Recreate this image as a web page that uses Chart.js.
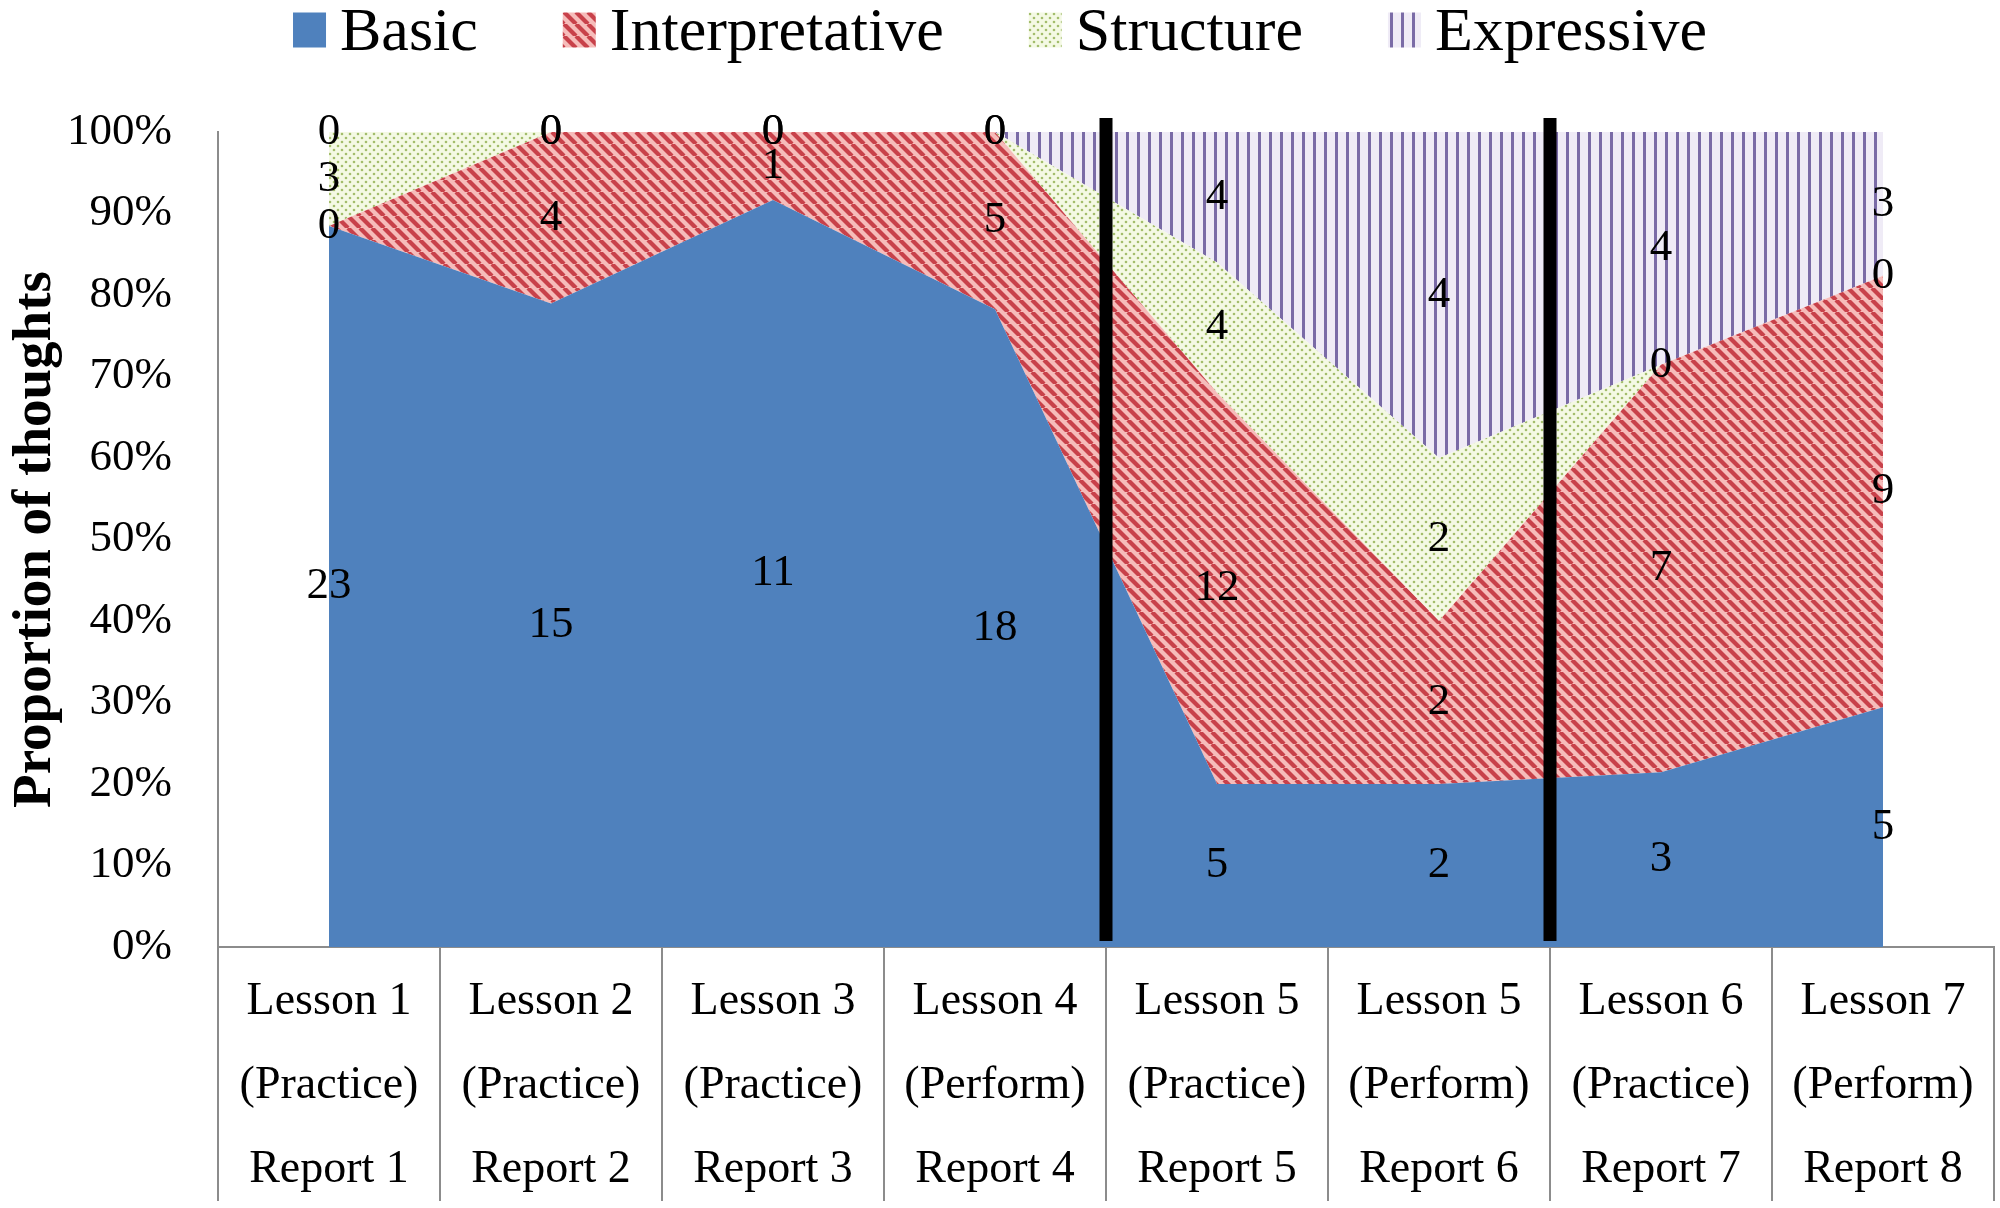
<!DOCTYPE html>
<html lang="en">
<head>
<meta charset="UTF-8">
<title>Proportion of thoughts</title>
<script src="https://cdn.jsdelivr.net/npm/chart.js@4.4.1/dist/chart.umd.min.js"></script>
<style>
	html, body { margin: 0; padding: 0; background: #fff; }
	#box { width: 2000px; height: 1208px; position: relative; }
</style>
</head>
<body>
	<div id="box"><canvas id="chart"></canvas></div>

	<script>
		// categories (three lines each, as in the table under the axis)
		var reports = [
			['Lesson 1', '(Practice)', 'Report 1'],
			['Lesson 2', '(Practice)', 'Report 2'],
			['Lesson 3', '(Practice)', 'Report 3'],
			['Lesson 4', '(Perform)', 'Report 4'],
			['Lesson 5', '(Practice)', 'Report 5'],
			['Lesson 5', '(Perform)', 'Report 6'],
			['Lesson 6', '(Practice)', 'Report 7'],
			['Lesson 7', '(Perform)', 'Report 8']
		];
		var seriesNames = ['Basic', 'Interpretative', 'Structure', 'Expressive'];

		// number of thoughts per report
		var basic = [23, 15, 11, 18, 5, 2, 3, 5];
		var interpretative = [0, 4, 1, 5, 12, 2, 7, 9];
		var structure = [3, 0, 0, 0, 4, 2, 0, 0];
		var expressive = [0, 0, 0, 0, 4, 4, 4, 3];

		// thick separators after these reports
		var phaseEnds = ['Report 4', 'Report 6'];

		var counts = [basic, interpretative, structure, expressive];

		// 100% stacked -> turn counts into shares
		var totals = basic.map(function(v, i) {
			return basic[i] + interpretative[i] + structure[i] + expressive[i];
		});
		var pct = counts.map(function(arr) {
			return arr.map(function(v, i) { return v / totals[i] * 100; });
		});

		function makePattern(kind) {
			var c = document.createElement('canvas');
			var g = c.getContext('2d');
			if (kind == 'stripes') {
				c.width = 12; c.height = 12;
				g.fillStyle = '#f6bcba';
				g.fillRect(0, 0, 12, 12);
				g.strokeStyle = '#c8414a';
				g.lineWidth = 4.2;
				for (var k = -12; k <= 12; k += 12) {
					g.beginPath(); g.moveTo(k, 0); g.lineTo(k + 12, 12); g.stroke();
				}
			} else if (kind == 'dots') {
				c.width = 8; c.height = 8;
				g.fillStyle = '#f4f9e4';
				g.fillRect(0, 0, 8, 8);
				g.fillStyle = '#a3bd6c';
				g.beginPath(); g.arc(2, 2, 1.3, 0, Math.PI * 2); g.fill();
				g.beginPath(); g.arc(6, 6, 1.3, 0, Math.PI * 2); g.fill();
			} else {
				c.width = 11; c.height = 11;
				g.fillStyle = '#efebf6';
				g.fillRect(0, 0, 11, 11);
				g.fillStyle = '#7a6ba6';
				g.fillRect(4, 0, 3, 11);
			}
			return g.createPattern(c, 'repeat');
		}

		var fills = ['#4f81bd', makePattern('stripes'), makePattern('dots'), makePattern('vlines')];

		var overlay = {
			id: 'overlay',
			afterDatasetsDraw: function(chart) {
				var ctx = chart.ctx, xs = chart.scales.x, ys = chart.scales.y;
				ctx.save();
				// phase separators
				ctx.strokeStyle = '#000';
				ctx.lineWidth = 13;
				phaseEnds.forEach(function(name) {
					var idx = reports.findIndex(function(r) { return r[2] == name; });
					var x = xs.getPixelForValue(idx + 0.5);
					ctx.beginPath();
					ctx.moveTo(x, ys.getPixelForValue(100) - 14);
					ctx.lineTo(x, chart.chartArea.bottom - 6);
					ctx.stroke();
				});
				// counts in the middle of each band
				ctx.font = '45px "Liberation Serif"';
				ctx.fillStyle = '#000';
				ctx.textAlign = 'center';
				ctx.textBaseline = 'middle';
				var below = reports.map(function() { return 0; });
				counts.forEach(function(arr, d) {
					var meta = chart.getDatasetMeta(d);
					arr.forEach(function(v, i) {
						var y = ys.getPixelForValue(below[i] + pct[d][i] / 2);
						ctx.fillText(String(v), meta.data[i].x, y);
						below[i] += pct[d][i];
					});
				});
				ctx.restore();
			},
			afterDraw: function(chart) {
				// legend at the top
				var ctx = chart.ctx;
				ctx.save();
				ctx.font = '62px "Liberation Serif"';
				var widths = seriesNames.map(function(n) { return ctx.measureText(n).width; });
				var boxW = 33, boxH = 35, gapText = 14, gapItem = 85;
				var total = 0;
				widths.forEach(function(w) { total += w + boxW + gapText; });
				total += gapItem * (seriesNames.length - 1);
				var x = chart.width / 2 - total / 2;
				var cy = 30;
				ctx.textAlign = 'left';
				ctx.textBaseline = 'middle';
				seriesNames.forEach(function(n, i) {
					ctx.fillStyle = fills[i];
					ctx.fillRect(x, cy - boxH / 2, boxW, boxH);
					ctx.fillStyle = '#000';
					ctx.fillText(n, x + boxW + gapText, cy + 4);
					x += boxW + gapText + widths[i] + gapItem;
				});
				ctx.restore();
			}
		};

		var ctx = document.getElementById('chart').getContext('2d');
		var chart = new Chart(ctx, {
			type : 'line',
			data : {
				labels : reports,
				datasets : seriesNames.map(function(n, d) {
					return {
						label : n,
						data : pct[d],
						backgroundColor : fills[d],
						borderWidth : 0,
						pointRadius : 0,
						tension : 0,
						fill : d == 0 ? 'origin' : '-1'
					};
				})
			},
			options : {
				responsive : true,
				maintainAspectRatio : false,
				animation : false,
				layout : { padding : { top : 132, right : 6, left : 0, bottom : 0 } },
				plugins : {
					legend : { display : false },
					tooltip : { enabled : false }
				},
				scales : {
					x : {
						offset : true,
						grid : {
							offset : true,
							drawOnChartArea : false,
							tickLength : 254,
							color : '#8c8c8c',
							lineWidth : 2
						},
						border : { display : true, color : '#8c8c8c', width : 2 },
						ticks : {
							color : '#000',
							padding : -241,
							maxRotation : 0,
							autoSkip : false,
							font : { family : 'Liberation Serif', size : 46, lineHeight : 1.826 }
						},
						afterFit : function(s) { s.height = 261; }
					},
					y : {
						stacked : true,
						min : 0,
						max : 100,
						grid : { display : false },
						border : { display : true, color : '#8c8c8c', width : 2 },
						ticks : {
							stepSize : 10,
							padding : 38,
							color : '#000',
							font : { family : 'Liberation Serif', size : 45 },
							callback : function(v) { return v + '%'; }
						},
						title : {
							display : true,
							text : 'Proportion of thoughts',
							color : '#000',
							padding : { top : 3, bottom : 0 },
							font : { family : 'Liberation Serif', size : 55, weight : 'bold' }
						},
						afterFit : function(s) { s.width = 218; }
					}
				}
			},
			plugins : [ overlay ]
		});
	</script>
</body>
</html>
